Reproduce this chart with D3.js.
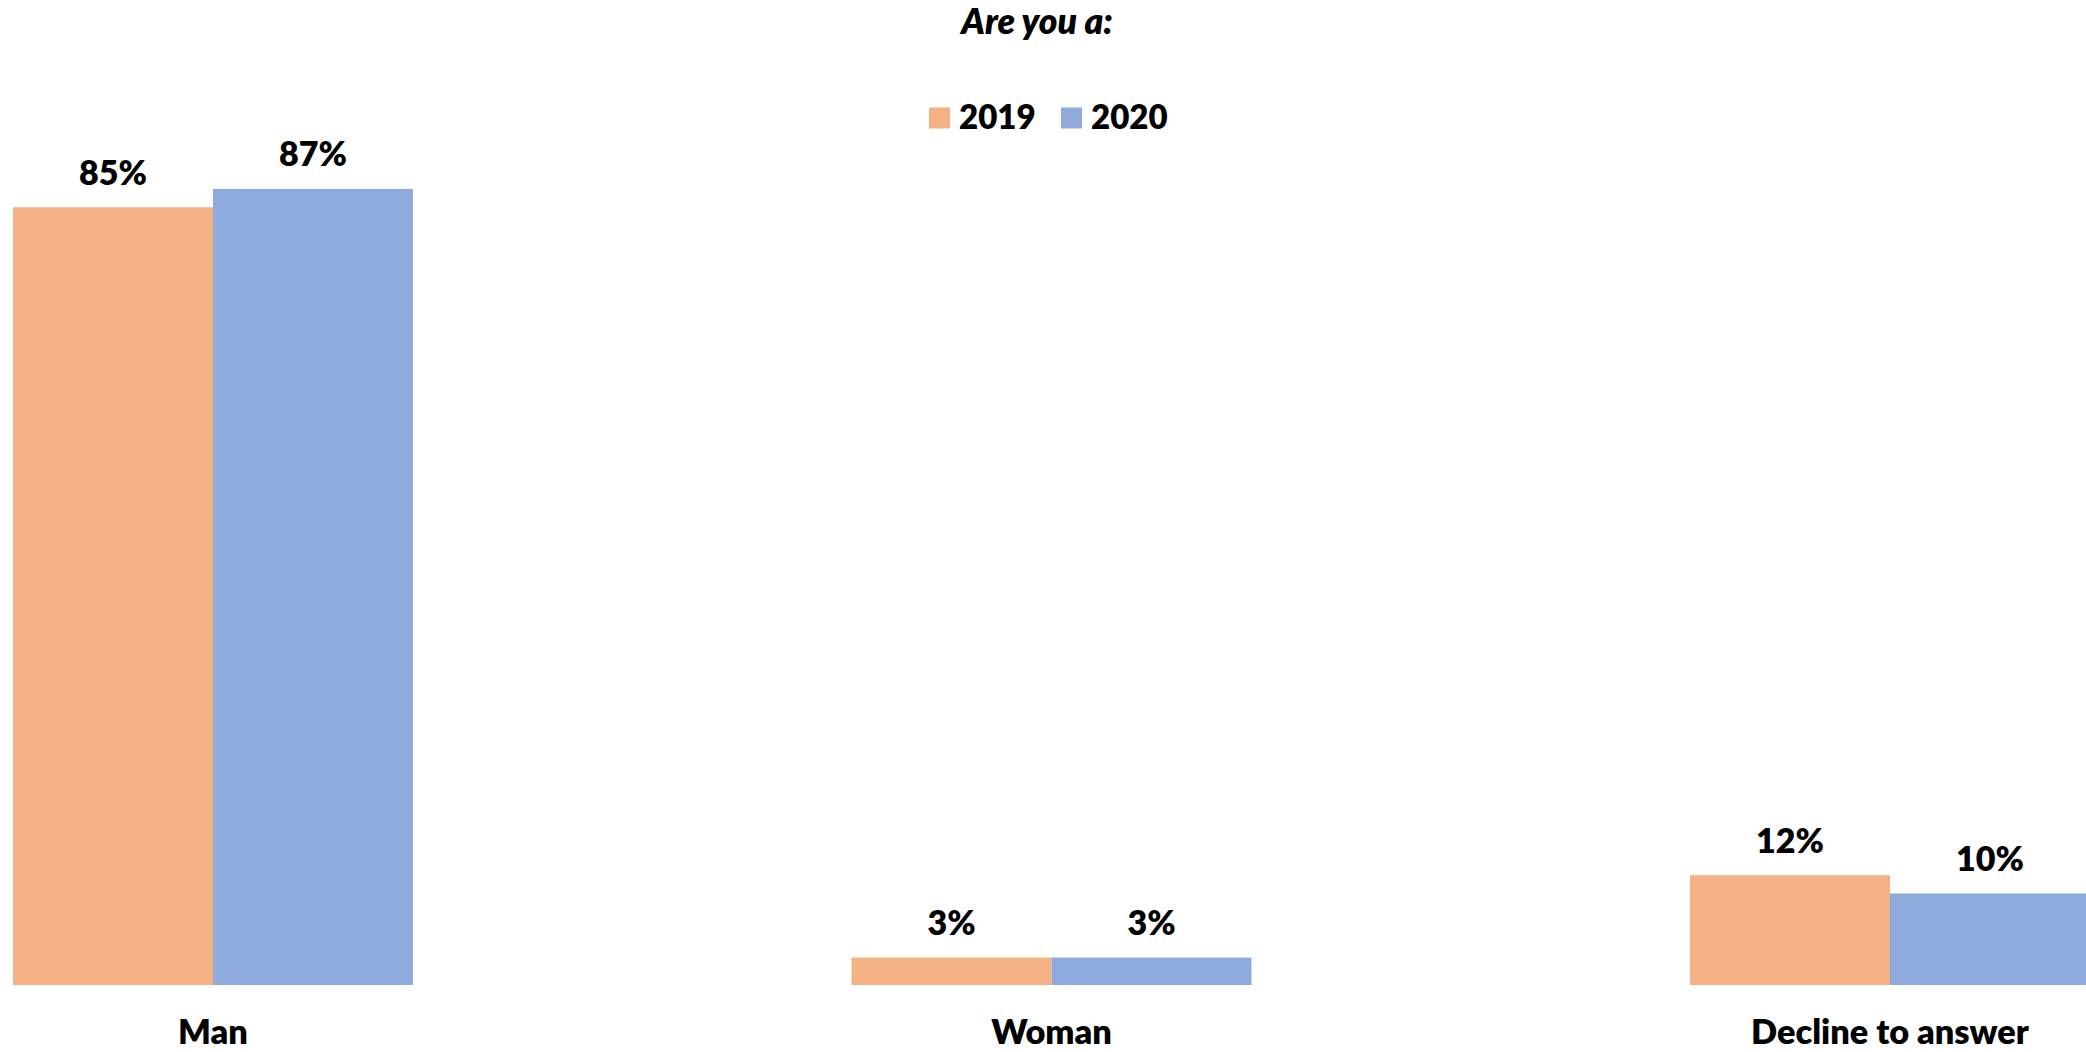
<!DOCTYPE html>
<html>
<head>
<meta charset="utf-8">
<script src="https://cdn.jsdelivr.net/npm/d3@7"></script>
<style>
  html, body { margin: 0; padding: 0; background: #ffffff; }
  svg { display: block; }
  text { font-family: Lato, "Open Sans", sans-serif; font-weight: 800; fill: #000; }
</style>
</head>
<body>
<svg id="chart" width="2086" height="1052"></svg>
<script>
// Survey question: gender of respondents, share per year
const categories = ["Man", "Woman", "Decline to answer"];
const years = ["2019", "2020"];
const values2019 = [85, 3, 12];
const values2020 = [87, 3, 10];
const colors = ["#F4B183", "#8FAADC"];
const titleText = "Are you a:";

const series = [values2019, values2020];
const rows = categories.map((c, i) => ({
  category: c,
  bars: years.map((y, j) => ({ year: y, value: series[j][i] }))
}));

const svg = d3.select("#chart");

// Plot area runs wider than the canvas, so the outer bars meet the edges
const x0 = d3.scaleBand()
  .domain(categories)
  .range([-206.25, 2309.25])
  .paddingInner(0.523)
  .paddingOuter(0.2615);

const x1 = d3.scaleBand()
  .domain(years)
  .range([0, x0.bandwidth()]);

const y = d3.scaleLinear()
  .domain([0, 100])
  .range([985, 70]);

const color = d3.scaleOrdinal().domain(years).range(colors);

// Bars
const groups = svg.append("g")
  .selectAll("g")
  .data(rows)
  .join("g")
  .attr("transform", d => `translate(${x0(d.category)},0)`);

groups.selectAll("rect")
  .data(d => d.bars)
  .join("rect")
  .attr("x", d => x1(d.year))
  .attr("y", d => y(d.value))
  .attr("width", x1.bandwidth())
  .attr("height", d => y(0) - y(d.value))
  .attr("fill", d => color(d.year));

// Value labels above each bar
groups.selectAll("text")
  .data(d => d.bars)
  .join("text")
  .attr("x", d => x1(d.year) + x1.bandwidth() / 2)
  .attr("y", d => y(d.value) - 22.5)
  .attr("text-anchor", "middle")
  .style("font-size", "34px")
  .text(d => d.value + "%");

// Category axis labels
svg.append("g")
  .selectAll("text")
  .data(categories)
  .join("text")
  .attr("x", d => x0(d) + x0.bandwidth() / 2)
  .attr("y", 1044)
  .attr("text-anchor", "middle")
  .style("font-size", "34.3px")
  .text(d => d);

// Title
svg.append("text")
  .attr("x", 1037)
  .attr("y", 34)
  .attr("text-anchor", "middle")
  .style("font-size", "35.5px")
  .style("font-style", "italic")
  .text(titleText);

// Legend
const legendX = [929, 1061];
const legend = svg.append("g")
  .selectAll("g")
  .data(years)
  .join("g")
  .attr("transform", (d, i) => `translate(${legendX[i]},107.5)`);

legend.append("rect")
  .attr("width", 21)
  .attr("height", 21)
  .attr("fill", d => color(d));

legend.append("text")
  .attr("x", 30)
  .attr("y", 21)
  .style("font-size", "33px")
  .text(d => d);
</script>
</body>
</html>
